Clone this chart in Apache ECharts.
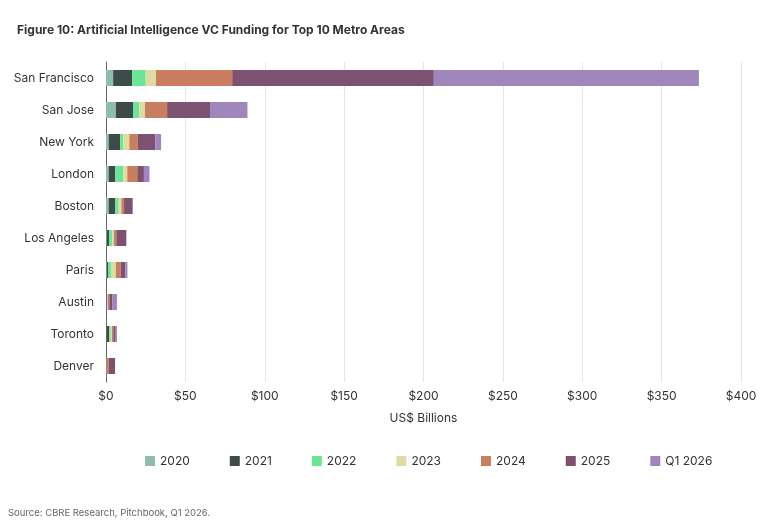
<!DOCTYPE html><html><head><meta charset="utf-8"><script src="https://cdn.jsdelivr.net/npm/echarts@6/dist/echarts.min.js"></script>
<style>body{margin:0}#c{width:768px;height:524px}</style></head><body><div id="c"></div><script>
const categories=["San Francisco","San Jose","New York","London","Boston","Los Angeles","Paris","Austin","Toronto","Denver"];
const seriesNames=["2020","2021","2022","2023","2024","2025","Q1 2026"];
const v2020=[4.5,6.2,1.7,1.7,1.7,0.5,0.5,0.3,0.3,0.2];
const v2021=[12,10.8,7.2,4.2,4.2,1.5,1,0.3,1.7,0];
const v2022=[8.5,4,2,5,2.1,2,2,0.2,1,0];
const v2023=[6.5,3.5,3.8,2.5,1.7,1,2.7,0.3,0.8,0];
const v2024=[48,14,5.2,6.3,1.7,1.5,3,1,0.8,1.5];
const v2025=[127,27,11.2,4.2,5.4,6.3,3,1.8,1.5,4];
const vQ1=[167,23.6,3.6,3.5,0,0,1.3,3,0.8,0];
const values=[v2020,v2021,v2022,v2023,v2024,v2025,vQ1];
const colors=["#8fbcab","#3f4a4a","#6ce595","#dedca3","#c97f5d","#7f5170","#9f87bc"];
const font="Inter";
const chart=echarts.init(document.getElementById('c'));
chart.setOption({
 textStyle:{fontFamily:font},
 title:[{text:"Figure 10: Artificial Intelligence VC Funding for Top 10 Metro Areas",left:12,top:19,textStyle:{fontSize:12,fontWeight:'bold',color:'#333',fontFamily:font}},
  {text:"Source: CBRE Research, Pitchbook, Q1 2026.",left:3,top:503,textStyle:{fontSize:9.5,fontWeight:'normal',color:'#666',fontFamily:font}}],
 grid:{left:106,right:27,top:62,bottom:142},
 legend:{bottom:52,left:140,itemGap:40,itemWidth:10,itemHeight:10,icon:'rect',textStyle:{fontSize:12,color:'#333'},data:seriesNames},
 xAxis:{type:'value',min:0,max:400,interval:50,name:'US$ Billions',nameLocation:'middle',nameGap:30,nameTextStyle:{fontSize:12,color:'#333'},
  axisLabel:{formatter:'${value}',fontSize:12,color:'#333'},splitLine:{lineStyle:{color:'#e6e6e6'}},axisLine:{show:false},axisTick:{show:false}},
 yAxis:{type:'category',data:categories,inverse:true,axisLine:{lineStyle:{color:'#666'}},axisTick:{show:false},axisLabel:{fontSize:12,color:'#333',margin:12}},
 series:seriesNames.map((n,i)=>({name:n,type:'bar',stack:'t',data:values[i],barWidth:16,itemStyle:{color:colors[i]}}))
});
</script></body></html>
